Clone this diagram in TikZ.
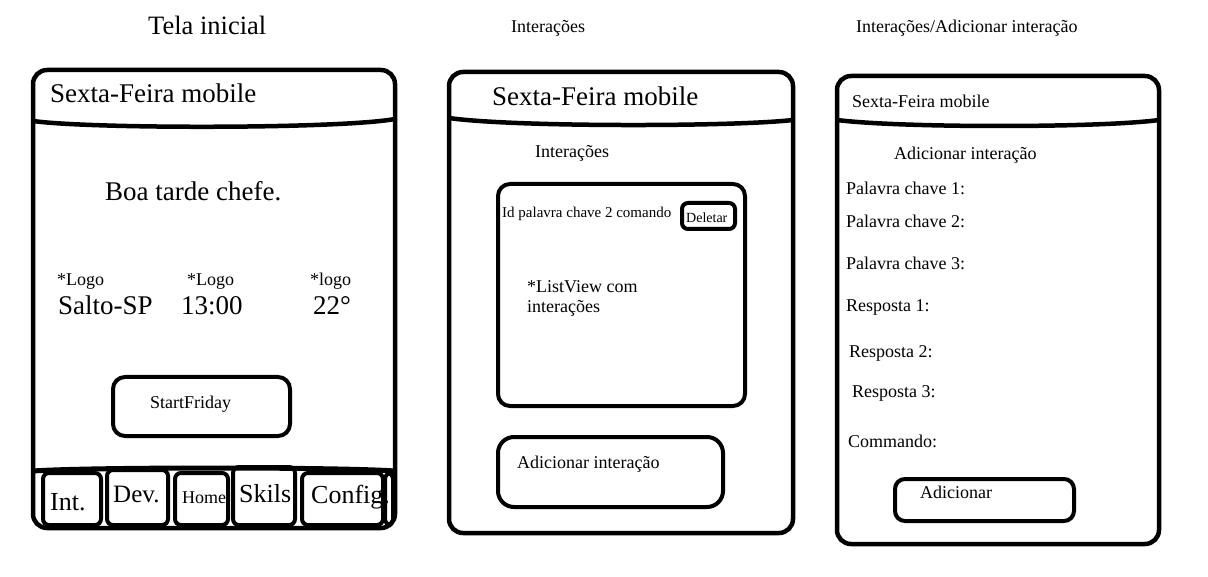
\documentclass[tikz,border=0pt]{standalone}
\usepackage{fontspec}
\setmainfont{Liberation Serif}
\begin{document}
\begin{tikzpicture}[x=1pt, y=-1pt,
    phone/.style={draw, line width=4.5pt, rounded corners=14pt},
    btn/.style={draw, line width=4pt, rounded corners=12pt},
    tab/.style={draw, line width=4pt, rounded corners=6pt},
    lbl/.style={anchor=base west, inner sep=0pt, font=\fontsize{18}{20}\selectfont},
    biglbl/.style={lbl, font=\fontsize{27}{30}\selectfont}]
    \useasboundingbox (0,0) rectangle (1208,577);
    % titles
    \node[lbl, font=\fontsize{26.5}{30}\selectfont] (title-home) at (148,35) {Tela inicial};
    \node[lbl] (title-int) at (511,33) {Interações};
    \node[lbl] (title-add) at (856,33) {Interações/Adicionar interação};
    % phone 1
    \draw[phone] (33,70) rectangle (395,528);
    \draw[line width=4.5pt] (33,121) .. controls (90,129) and (340,129) .. (395,119);
    \draw[line width=5pt] (33,471) .. controls (90,467) and (340,467) .. (395,471);
    \node[biglbl] (head-home) at (50,103) {Sexta-Feira mobile};
    \node[biglbl] (greet) at (105,201) {Boa tarde chefe.};
    \foreach \i/\x/\xv/\logo/\val in {city/57/58/*Logo/Salto-SP, time/187/181/*Logo/13:00, temp/310/313/*logo/22°}{
      \node[lbl] (logo-\i) at (\x,286) {\logo};
      \node[biglbl] (val-\i) at (\xv,315) {\val};
    }
    \draw[btn] (113,377) rectangle (290,436);
    \node[lbl] (start) at (150,408) {StartFriday};
    \foreach \i/\xa/\xb/\ya/\tx/\ty/\lab/\fs in {int/43/101/473/50/510/Int./26, dev/107/168/470/113/502/Dev./25, home/175/228/473/182/503/Home/18, skils/233/295/467/239/502/Skils/26, config/302/383/473/311/503/Config./26}{
      \draw[tab] (\xa,\ya) rectangle (\xb,525);
      \node[lbl, font=\fontsize{\fs}{\fs}\selectfont] (tab-\i) at (\tx,\ty) {\lab};
    }
    \draw[tab] (385,473) rectangle (393,525);
    % phone 2
    \draw[phone] (449,72) rectangle (793,533);
    \draw[line width=4.5pt] (449,118) .. controls (510,127) and (730,127) .. (793,120);
    \node[biglbl] (head-int) at (492,106) {Sexta-Feira mobile};
    \node[lbl] (sub-int) at (535,158) {Interações};
    \draw[btn] (498,184) rectangle (745,406);
    \node[lbl, font=\fontsize{15}{17}\selectfont] (row) at (502,218) {Id palavra chave 2 comando};
    \draw[btn, rounded corners=6pt] (682,203) rectangle (735,229);
    \node[lbl, font=\fontsize{14}{16}\selectfont] (del) at (686,223) {Deletar};
    \node[lbl, align=left] (list) at (527,313) {*ListView com\\interações};
    \draw[btn, rounded corners=16pt] (498,437) rectangle (723,507);
    \node[lbl] (add-int) at (517,468) {Adicionar interação};
    % phone 3
    \draw[phone] (837,76) rectangle (1159,544);
    \draw[line width=4.5pt] (837,120) .. controls (900,128) and (1100,128) .. (1159,120);
    \node[lbl] (head-add) at (852,108) {Sexta-Feira mobile};
    \node[lbl] (sub-add) at (894,160) {Adicionar interação};
    \foreach \i/\x/\y/\lab in {k1/846/195/Palavra chave 1:, k2/846/228/Palavra chave 2:, k3/846/270/Palavra chave 3:, r1/846/312/Resposta 1:, r2/849/358/Resposta 2:, r3/852/398/Resposta 3:, cmd/848/447/Commando:}{
      \node[lbl] (field-\i) at (\x,\y) {\lab};
    }
    \draw[btn, rounded corners=10pt] (895,479) rectangle (1074,521);
    \node[lbl] (add) at (920,498) {Adicionar};
\end{tikzpicture}
\end{document}
